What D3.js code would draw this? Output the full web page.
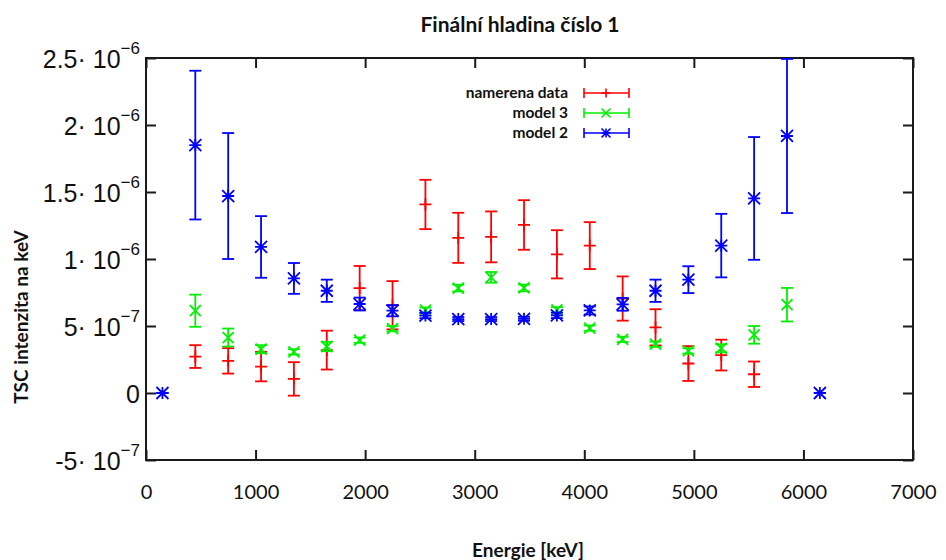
<!DOCTYPE html>
<html>
<head>
<meta charset="utf-8">
<script src="https://cdn.jsdelivr.net/npm/d3@7"></script>
<style>
  html, body { margin: 0; padding: 0; background: #fff; }
  svg { display: block; font-family: "Lato", "Open Sans", sans-serif; }
</style>
</head>
<body>
<svg id="chart" width="946" height="560"></svg>
<script>
// ---- data (energies in keV, intensities per keV) ----
const measuredEnergy = [450, 750, 1050, 1350, 1650, 1950, 2250, 2550, 2850, 3150, 3450, 3750, 4050, 4350, 4650, 4950, 5250, 5550];
const measuredValue  = [0.272e-6, 0.24e-6, 0.197e-6, 0.105e-6, 0.32e-6, 0.783e-6, 0.655e-6, 1.407e-6, 1.158e-6, 1.165e-6, 1.254e-6, 1.035e-6, 1.10e-6, 0.705e-6, 0.49e-6, 0.22e-6, 0.283e-6, 0.14e-6];
const measuredError  = [0.085e-6, 0.095e-6, 0.11e-6, 0.125e-6, 0.145e-6, 0.165e-6, 0.18e-6, 0.184e-6, 0.187e-6, 0.19e-6, 0.185e-6, 0.18e-6, 0.175e-6, 0.165e-6, 0.135e-6, 0.13e-6, 0.115e-6, 0.095e-6];

const model3Energy = [450, 750, 1050, 1350, 1650, 1950, 2250, 2550, 2850, 3150, 3450, 3750, 4050, 4350, 4650, 4950, 5250, 5550, 5850];
const model3Value  = [0.614e-6, 0.414e-6, 0.327e-6, 0.307e-6, 0.347e-6, 0.394e-6, 0.48e-6, 0.618e-6, 0.783e-6, 0.863e-6, 0.784e-6, 0.621e-6, 0.484e-6, 0.40e-6, 0.364e-6, 0.314e-6, 0.334e-6, 0.434e-6, 0.659e-6];
const model3Error  = [0.12e-6, 0.067e-6, 0.03e-6, 0.02e-6, 0.035e-6, 0.02e-6, 0.02e-6, 0.02e-6, 0.025e-6, 0.04e-6, 0.025e-6, 0.02e-6, 0.02e-6, 0.02e-6, 0.02e-6, 0.02e-6, 0.03e-6, 0.066e-6, 0.125e-6];

const model2Energy = [150, 450, 750, 1050, 1350, 1650, 1950, 2250, 2550, 2850, 3150, 3450, 3750, 4050, 4350, 4650, 4950, 5250, 5550, 5850, 6150];
const model2Value  = [0, 1.85e-6, 1.47e-6, 1.09e-6, 0.855e-6, 0.763e-6, 0.664e-6, 0.614e-6, 0.578e-6, 0.552e-6, 0.552e-6, 0.554e-6, 0.579e-6, 0.616e-6, 0.662e-6, 0.763e-6, 0.846e-6, 1.10e-6, 1.452e-6, 1.918e-6, 0];
const model2Error  = [0, 0.555e-6, 0.47e-6, 0.23e-6, 0.115e-6, 0.083e-6, 0.048e-6, 0.042e-6, 0.02e-6, 0.015e-6, 0.015e-6, 0.015e-6, 0.02e-6, 0.03e-6, 0.048e-6, 0.083e-6, 0.1e-6, 0.237e-6, 0.458e-6, 0.575e-6, 0];

// ---- axis ticks and labels ----
const xTickValues = [0, 1000, 2000, 3000, 4000, 5000, 6000, 7000];
const xTickLabels = ["0", "1000", "2000", "3000", "4000", "5000", "6000", "7000"];
const yTickValues = [-5e-7, 0, 5e-7, 1e-6, 1.5e-6, 2e-6, 2.5e-6];
const yTickMantissa = ["-5", "0", "5", "1", "1.5", "2", "2.5"];
const yTickExponent = ["−7", "", "−7", "−6", "−6", "−6", "−6"];

const titleText = "Finální hladina číslo 1";
const xAxisTitle = "Energie [keV]";
const yAxisTitle = "TSC intenzita na keV";
const seriesNames = ["namerena data", "model 3", "model 2"];
const seriesColors = ["#ff0000", "#00f000", "#0000ff"];

// ---- layout ----
const svg = d3.select("#chart");
const plot = { left: 146, right: 913, top: 58, bottom: 460 };

const x = d3.scaleLinear().domain([0, 7000]).range([plot.left, plot.right]);
const y = d3.scaleLinear().domain([-5e-7, 2.5e-6]).range([plot.bottom, plot.top]);

svg.append("rect").attr("width", 946).attr("height", 560).attr("fill", "#fff");

// inward ticks on all four sides
const tickLen = 10;
const axisStroke = "#1a1a1a";

const gBottom = svg.append("g")
  .attr("transform", `translate(0,${plot.bottom})`)
  .call(d3.axisBottom(x).tickValues(xTickValues).tickSize(-tickLen).tickSizeOuter(0)
    .tickPadding(32).tickFormat((d, i) => xTickLabels[i]));
const gTop = svg.append("g")
  .attr("transform", `translate(0,${plot.top})`)
  .call(d3.axisTop(x).tickValues(xTickValues).tickSize(-tickLen).tickSizeOuter(0).tickFormat(""));
const gLeft = svg.append("g")
  .attr("transform", `translate(${plot.left},0)`)
  .call(d3.axisLeft(y).tickValues(yTickValues).tickSize(-tickLen).tickSizeOuter(0)
    .tickFormat(""));
const gRight = svg.append("g")
  .attr("transform", `translate(${plot.right},0)`)
  .call(d3.axisRight(y).tickValues(yTickValues).tickSize(-tickLen).tickSizeOuter(0).tickFormat(""));

[gBottom, gTop, gLeft, gRight].forEach(g => {
  g.select(".domain").remove();
  g.selectAll(".tick line").attr("stroke", axisStroke).attr("stroke-width", 2);
});

gBottom.selectAll(".tick text")
  .attr("fill", "#111").attr("font-size", 20).attr("dy", "0.35em")
  .attr("font-family", "Lato, sans-serif");

// y tick labels: mantissa · 10^exponent
gLeft.selectAll(".tick").each(function (d, i) {
  const t = d3.select(this).append("text")
    .attr("x", -6).attr("dy", "0.36em")
    .attr("text-anchor", "end").attr("fill", "#111")
    .attr("font-size", 25);
  if (yTickExponent[i] === "") {
    t.text(yTickMantissa[i]);
  } else {
    t.append("tspan").text(yTickMantissa[i] + "· 10");
    t.append("tspan").attr("font-size", 17).attr("dy", "-0.8em").text(yTickExponent[i]);
  }
});

// frame
svg.append("rect")
  .attr("x", plot.left).attr("y", plot.top)
  .attr("width", plot.right - plot.left).attr("height", plot.bottom - plot.top)
  .attr("fill", "none").attr("stroke", axisStroke).attr("stroke-width", 2);

// ---- titles ----
svg.append("text").attr("x", 520).attr("y", 32).attr("text-anchor", "middle")
  .attr("font-weight", "bold").attr("font-size", 21).attr("fill", "#111").text(titleText);
svg.append("text").attr("x", 528).attr("y", 557).attr("text-anchor", "middle")
  .attr("font-weight", "bold").attr("font-size", 19).attr("fill", "#111").text(xAxisTitle);
svg.append("text").attr("transform", "translate(28,317) rotate(-90)").attr("text-anchor", "middle")
  .attr("font-weight", "bold").attr("font-size", 19).attr("fill", "#111").text(yAxisTitle);

// ---- point symbols (plus, cross, star) ----
function symbolPath(kind, s) {
  const plus = `M${-s},0H${s}M0,${-s}V${s}`;
  const cross = `M${-s},${-s}L${s},${s}M${-s},${s}L${s},${-s}`;
  if (kind === "plus") return plus;
  if (kind === "cross") return cross;
  return plus + cross;
}

const capHalf = 6;
svg.append("clipPath").attr("id", "plotClip").append("rect")
  .attr("x", plot.left).attr("y", plot.top)
  .attr("width", plot.right - plot.left).attr("height", plot.bottom - plot.top);

function drawSeries(energy, value, error, color, kind, symSize) {
  const rows = energy.map((e, i) => ({ e, v: value[i], err: error[i] }));
  const g = svg.append("g").attr("clip-path", "url(#plotClip)")
    .attr("stroke", color).attr("stroke-width", 1.8).attr("fill", "none");
  const pt = g.selectAll("g.pt").data(rows).join("g").attr("class", "pt")
    .attr("transform", d => `translate(${x(d.e)},0)`);
  pt.append("line").attr("x1", 0).attr("x2", 0)
    .attr("y1", d => y(d.v + d.err)).attr("y2", d => y(d.v - d.err));
  pt.append("line").attr("x1", -capHalf).attr("x2", capHalf)
    .attr("y1", d => y(d.v + d.err)).attr("y2", d => y(d.v + d.err));
  pt.append("line").attr("x1", -capHalf).attr("x2", capHalf)
    .attr("y1", d => y(d.v - d.err)).attr("y2", d => y(d.v - d.err));
  pt.append("path").attr("transform", d => `translate(0,${y(d.v)})`)
    .attr("d", symbolPath(kind, symSize));
}

drawSeries(measuredEnergy, measuredValue, measuredError, seriesColors[0], "plus", 6);
drawSeries(model3Energy, model3Value, model3Error, seriesColors[1], "cross", 5.5);
drawSeries(model2Energy, model2Value, model2Error, seriesColors[2], "star", 6);

// ---- legend ----
const legendKinds = ["plus", "cross", "star"];
const legendY = [93, 113, 133];
const legend = svg.append("g");
seriesNames.forEach((name, i) => {
  const ly = legendY[i];
  legend.append("text").attr("x", 568).attr("y", ly).attr("dy", "0.35em")
    .attr("text-anchor", "end").attr("font-weight", "bold").attr("font-size", 15.5)
    .attr("fill", "#111").text(name);
  const g = legend.append("g").attr("stroke", seriesColors[i]).attr("stroke-width", 1.6).attr("fill", "none");
  g.append("line").attr("x1", 584).attr("x2", 629).attr("y1", ly).attr("y2", ly);
  g.append("line").attr("x1", 584).attr("x2", 584).attr("y1", ly - 5).attr("y2", ly + 5);
  g.append("line").attr("x1", 629).attr("x2", 629).attr("y1", ly - 5).attr("y2", ly + 5);
  g.append("path").attr("transform", `translate(606,${ly})`).attr("d", symbolPath(legendKinds[i], 4.5));
});
</script>
</body>
</html>
